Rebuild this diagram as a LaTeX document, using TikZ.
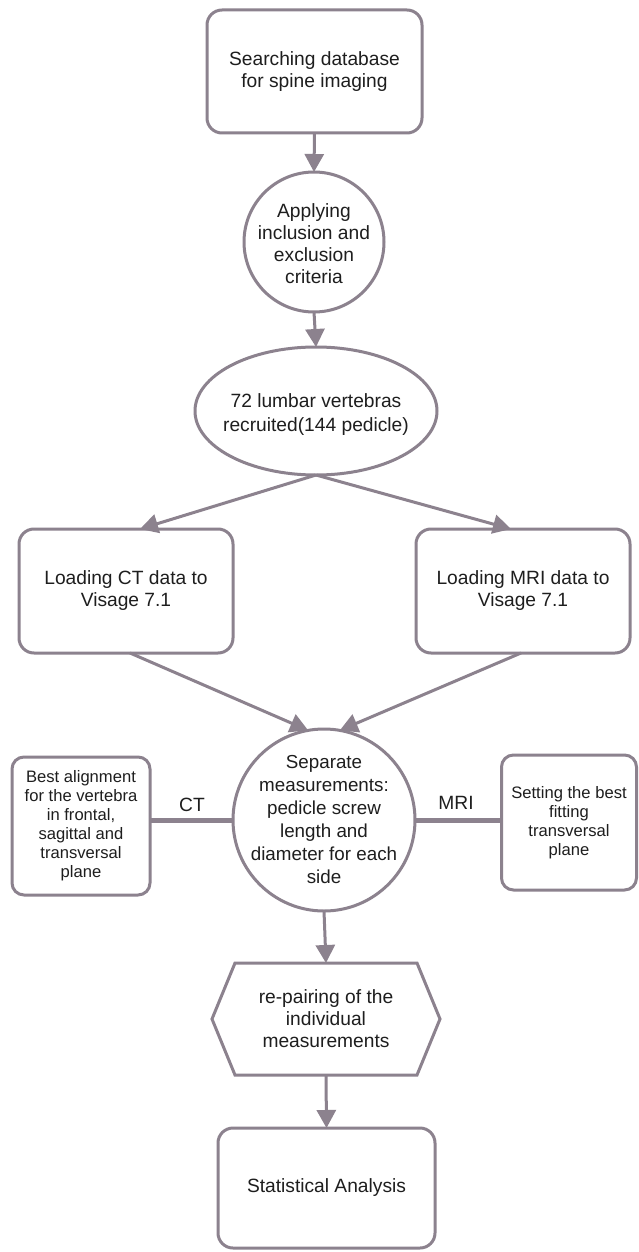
\documentclass[tikz,border=0pt]{standalone}
\usepackage{fontspec}
\setmainfont{Liberation Sans}
\usetikzlibrary{arrows.meta,shapes.geometric,calc}
\definecolor{edgec}{RGB}{140,130,142}
\definecolor{txtc}{RGB}{30,30,30}
\begin{document}
\begin{tikzpicture}[x=1pt,y=-1pt,
  every node/.style={text=txtc, inner sep=0pt, outer sep=0pt, align=center},
  shapeline/.style={draw=edgec, line width=3pt},
  mainfont/.style={font=\fontsize{19.2}{22}\selectfont},
  rbox/.style={shapeline, rounded corners=15pt, mainfont},
  sbox/.style={shapeline, rounded corners=12pt, font=\fontsize{16.6}{19}\selectfont},
  circshape/.style={shapeline, circle},
  ellshape/.style={shapeline, ellipse},
  conn/.style={draw=edgec, line width=3pt, -{Triangle[length=18pt,width=19pt]}},
  sideline/.style={draw=edgec, line width=5pt},
  lab/.style={font=\fontsize{19.2}{22}\selectfont}
]
\useasboundingbox (0,0) rectangle (638,1252);
\fill[white] (0,0) rectangle (638,1252);

% main column
\node[rbox, minimum width=215pt, minimum height=123pt] (search) at (314.5,71.5) {Searching database\\for spine imaging};

\node[circshape, minimum size=140pt] (apply) at (314,242) {};
\node[mainfont] (applytxt) at ([yshift=-2pt]apply.center) {Applying\\inclusion and\\exclusion\\criteria};

\node[ellshape, minimum width=242pt, minimum height=128pt] (recr) at (316,411) {};
\node[font=\fontsize{19.2}{24}\selectfont] (recrtxt) at ([yshift=-4pt]recr.center) {72 lumbar vertebras\\recruited(144 pedicle)};

\node[rbox, minimum width=214pt, minimum height=124pt] (ct) at (126,591) {Loading CT data to\\Visage 7.1};
\node[rbox, minimum width=214pt, minimum height=124pt] (mri) at (523,591) {Loading MRI data to\\Visage 7.1};

\node[circshape, minimum size=182pt] (sep) at (324,820) {};
\node[font=\fontsize{18.8}{23}\selectfont] (septxt) at (sep.center) {Separate\\measurements:\\pedicle screw\\length and\\diameter for each\\side};

\node[sbox, minimum width=138pt, minimum height=138pt] (align) at (81,826) {Best alignment\\for the vertebra\\in frontal,\\sagittal and\\transversal\\plane};
\node[sbox, minimum width=135pt, minimum height=135pt] (fit) at (569,822.5) {Setting the best\\fitting\\transversal\\plane};

\node[mainfont, minimum width=228pt, minimum height=112pt] (hex) at (326,1019) {re-pairing of the\\individual\\measurements};
\draw[shapeline, line join=miter] (hex.west) -- ([xshift=23pt]hex.north west) -- ([xshift=-23pt]hex.north east) -- (hex.east) -- ([xshift=-23pt]hex.south east) -- ([xshift=23pt]hex.south west) -- cycle;

\node[rbox, minimum width=217pt, minimum height=120pt] (stat) at (326.5,1188) {Statistical Analysis};

% connectors
\draw[conn] (search.south) -- (apply.north);
\draw[conn] (apply.south) -- (recr.north);
\draw[conn] (recr.south) -- ([xshift=14pt]ct.north);
\draw[conn] (recr.south) -- ([xshift=-12pt]mri.north);
\draw[conn] ([xshift=4pt]ct.south) -- (sep.100);
\draw[conn] ([xshift=-2pt]mri.south) -- (sep.80);
\draw[conn] (sep.south) -- (hex.north);
\draw[conn] (hex.south) -- (stat.north);

\draw[sideline] (sep.west) -- (sep.west -| align.east);
\draw[sideline] (sep.east) -- (sep.east -| fit.west);
\node[lab] (ctlab) at (192,805) {CT};
\node[lab] (mrilab) at (456,803) {MRI};
\end{tikzpicture}
\end{document}
